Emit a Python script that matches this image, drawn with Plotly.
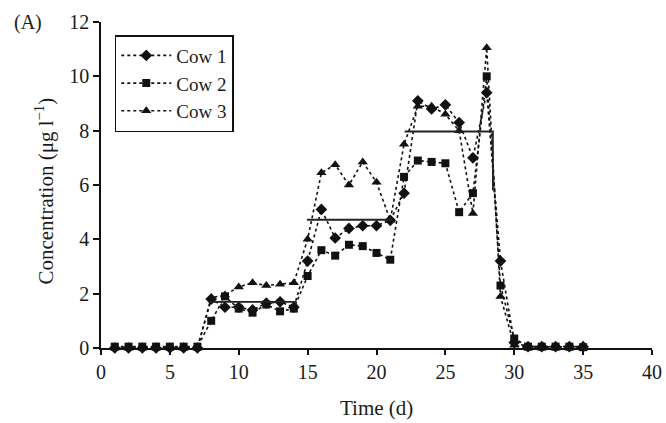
import plotly.graph_objects as go

# ---- data ----
days = list(range(1, 36))
cow1 = [0, 0, 0, 0, 0, 0, 0,
        1.8, 1.5, 1.5, 1.4, 1.65, 1.7, 1.5,
        3.2, 5.1, 4.05, 4.4, 4.5, 4.5, 4.7,
        5.7, 9.1, 8.8, 8.95, 8.3, 7.0, 9.4,
        3.2, 0.2, 0.05, 0.05, 0.05, 0.05, 0.05]
cow2 = [0.05, 0.05, 0.05, 0.05, 0.05, 0.05, 0.05,
        1.0, 1.9, 1.45, 1.3, 1.6, 1.35, 1.45,
        2.65, 3.6, 3.4, 3.8, 3.75, 3.5, 3.25,
        6.3, 6.9, 6.85, 6.8, 5.0, 5.7, 10.0,
        2.3, 0.35, 0.05, 0.05, 0.05, 0.05, 0.03]
cow3 = [0, 0, 0, 0, 0, 0, 0,
        1.85, 1.95, 2.25, 2.4, 2.3, 2.35, 2.4,
        4.0, 6.45, 6.75, 6.0, 6.85, 6.1, 4.7,
        7.5, 8.9, 8.9, 8.6, 8.0, 4.95, 11.05,
        1.9, 0.1, 0.0, 0.0, 0.0, 0.0, 0.0]

# weekly mean levels (solid lines)
mean_start = [7.8, 14.95, 22.05]
mean_end = [14.2, 21.1, 28.45]
mean_value = [1.7, 4.72, 7.97]
drop_end_value = 5.8  # vertical drop at end of last period

x_ticks = [0, 5, 10, 15, 20, 25, 30, 35, 40]
y_ticks = [0, 2, 4, 6, 8, 10, 12]

FONT = "Liberation Serif"
INK = "#1a1a1a"

fig = go.Figure()
series = [("Cow 1", cow1, "diamond", 9),
          ("Cow 2", cow2, "square", 8),
          ("Cow 3", cow3, "triangle-up", 9)]
for name, vals, sym, size in series:
    fig.add_trace(go.Scatter(
        x=days, y=vals, name=name, mode="lines+markers",
        line=dict(color="#111", width=1.6, dash="dot"),
        marker=dict(symbol=sym, size=size, color="#111"),
        cliponaxis=False,
    ))

mx, my = [], []
for s, e, v in zip(mean_start, mean_end, mean_value):
    mx += [s, e, None]
    my += [v, v, None]
# vertical drop at end of the last mean line
mx = mx[:-1] + [mean_end[-1]]
my = my[:-1] + [drop_end_value]
fig.add_trace(go.Scatter(x=mx, y=my, mode="lines", showlegend=False,
                         line=dict(color="#222", width=1.8),
                         hoverinfo="skip"))

fig.update_layout(
    width=666, height=423,
    margin=dict(l=101, r=14, t=22, b=75, autoexpand=False),
    paper_bgcolor="white", plot_bgcolor="white",
    font=dict(family=FONT, size=19, color=INK),
    showlegend=True,
    legend=dict(x=0.025, y=0.96, xanchor="left", yanchor="top",
                bgcolor="white", bordercolor="#111", borderwidth=1.5,
                font=dict(family=FONT, size=19, color=INK),
                tracegroupgap=0, itemwidth=50),
    xaxis=dict(range=[0, 40], tickvals=x_ticks, showgrid=False, zeroline=False,
               showline=True, linecolor="#111", linewidth=1.5, automargin=False,
               ticks="outside", ticklen=5, tickcolor="#111", tickwidth=1.5,
               tickfont=dict(family=FONT, size=20, color=INK)),
    yaxis=dict(range=[0, 12], tickvals=y_ticks, showgrid=False, zeroline=False,
               showline=True, linecolor="#111", linewidth=1.5, automargin=False,
               ticks="outside", ticklen=6, tickcolor="#111", tickwidth=1.5,
               tickfont=dict(family=FONT, size=20, color=INK)),
    annotations=[
        dict(text="(A)", x=-0.162, y=1.0, xref="paper", yref="paper",
             xanchor="left", yanchor="middle", showarrow=False,
             font=dict(family=FONT, size=20, color=INK)),
        dict(text="Time (d)", x=0.5, y=-0.184, xref="paper", yref="paper",
             xanchor="center", yanchor="middle", showarrow=False,
             font=dict(family=FONT, size=21, color=INK)),
        dict(text="Concentration (μg l<sup>−1</sup>)", x=-0.1016, y=0.48,
             xref="paper", yref="paper", textangle=-90,
             xanchor="center", yanchor="middle", showarrow=False,
             font=dict(family=FONT, size=21, color=INK)),
    ],
)

fig.write_html("out.html")
